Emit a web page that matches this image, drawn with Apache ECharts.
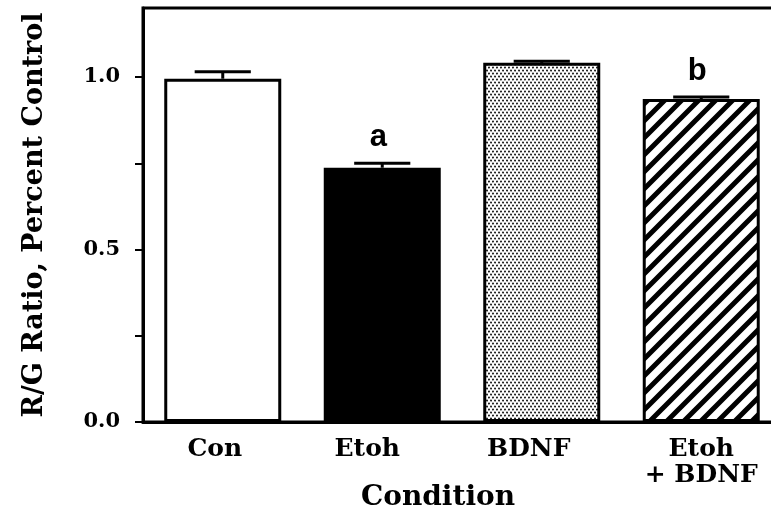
<!DOCTYPE html>
<html>
<head>
<meta charset="utf-8">
<script src="https://cdn.jsdelivr.net/npm/echarts@6/dist/echarts.min.js"></script>
<style>
html,body{margin:0;padding:0;background:#fff;}
#chart{width:771px;height:518px;}
</style>
</head>
<body>
<div id="chart"></div>
<script>
// ---- data ----
var categories = ['Con', 'Etoh', 'BDNF', 'Etoh\n+ BDNF'];
var means = [0.995, 0.737, 1.041, 0.936];
var errors = [0.020, 0.013, 0.005, 0.006];
var sigLabels = ['', 'a', '', 'b'];
var yTickValues = [0, 0.25, 0.5, 0.75, 1.0];
var yLabelValues = [0, 0.5, 1.0];
var yMin = 0, yMax = 1.2;

// ---- patterns ----
function dotPattern() {
  var c = document.createElement('canvas');
  c.width = 4; c.height = 6;
  var ctx = c.getContext('2d');
  ctx.fillStyle = '#fff'; ctx.fillRect(0, 0, 4, 6);
  ctx.fillStyle = '#222';
  ctx.beginPath(); ctx.arc(1, 1.5, 1.05, 0, Math.PI * 2); ctx.fill();
  ctx.beginPath(); ctx.arc(3, 4.5, 1.05, 0, Math.PI * 2); ctx.fill();
  return c;
}
function hatchPattern() {
  var s = 17;
  var c = document.createElement('canvas');
  c.width = s; c.height = s;
  var ctx = c.getContext('2d');
  ctx.fillStyle = '#fff'; ctx.fillRect(0, 0, s, s);
  ctx.strokeStyle = '#000'; ctx.lineWidth = 5;
  ctx.beginPath();
  ctx.moveTo(-2, s + 2); ctx.lineTo(s + 2, -2);
  ctx.moveTo(-4, 4); ctx.lineTo(4, -4);
  ctx.moveTo(s - 4, s + 4); ctx.lineTo(s + 4, s - 4);
  ctx.stroke();
  return c;
}
var fills = ['#ffffff', '#000000', { image: dotPattern(), repeat: 'repeat' }, { image: hatchPattern(), repeat: 'repeat' }];
// left shift (px) of each category label, as in the original figure
var labelStyleKeys = ['s8', 's15', 's13', 's0'];

var serif = '"DejaVu Serif", serif';
var catFont = { fontFamily: serif, fontWeight: 'bold', fontSize: 25, color: '#000', lineHeight: 26 };
function richShift(px) {
  return Object.assign({ padding: [0, px * 2, 0, 0] }, catFont);
}

var chart = echarts.init(document.getElementById('chart'), null, { renderer: 'canvas' });

var barData = means.map(function (v, i) {
  return { value: v, itemStyle: { color: fills[i], borderColor: '#000', borderWidth: 3 } };
});
var errData = means.map(function (v, i) { return [i, v, errors[i], sigLabels[i]]; });

chart.setOption({
  animation: false,
  backgroundColor: '#fff',
  grid: { left: 143, top: 8, right: -10, bottom: 96, outerBoundsMode: 'none', containLabel: false,
    show: true, borderColor: '#000', borderWidth: 3, backgroundColor: 'transparent' },
  xAxis: {
    type: 'category',
    data: categories,
    name: 'Condition',
    nameLocation: 'middle',
    nameGap: 62,
    nameMoveOverlap: false,
    nameTextStyle: { fontFamily: serif, fontWeight: 'bold', fontSize: 28, color: '#000', padding: [0, 48, 0, 0] },
    axisLine: { lineStyle: { color: '#000', width: 3 } },
    axisTick: { show: false },
    axisLabel: Object.assign({ margin: 14, interval: 0,
      formatter: function (v, i) {
        var k = labelStyleKeys[i];
        return v.split('\n').map(function (line) { return '{' + k + '|' + line + '}'; }).join('\n');
      },
      rich: { s0: richShift(0), s8: richShift(8), s13: richShift(13), s15: richShift(15) }
    }, catFont),
    splitLine: { show: false }
  },
  yAxis: {
    type: 'value',
    min: yMin, max: yMax,
    name: 'R/G Ratio, Percent Control',
    nameLocation: 'middle',
    nameGap: 95,
    nameMoveOverlap: false,
    nameTextStyle: { fontFamily: serif, fontWeight: 'bold', fontSize: 27, color: '#000' },
    axisLine: { show: true, lineStyle: { color: '#000', width: 3 } },
    axisTick: { show: true, length: 8, customValues: yTickValues, lineStyle: { color: '#000', width: 2 } },
    axisLabel: { customValues: yLabelValues, fontFamily: serif, fontWeight: 'bold', fontSize: 21, color: '#000', margin: 23,
      formatter: function (v) { return v.toFixed(1); } },
    splitLine: { show: false }
  },
  series: [
    {
      type: 'bar',
      data: barData,
      barWidth: 117,
      z: 2
    },
    {
      type: 'custom',
      data: errData,
      z: 3,
      renderItem: function (params, api) {
        var idx = api.value(0), m = api.value(1), e = api.value(2);
        var lab = sigLabels[idx];
        var pTop = api.coord([idx, m + e]);
        var pBase = api.coord([idx, m]);
        var half = api.size([1, 0])[0] * 0.176;
        var children = [
          { type: 'line', shape: { x1: pTop[0], y1: pTop[1], x2: pBase[0], y2: pBase[1] }, style: { stroke: '#000', lineWidth: 3 } },
          { type: 'line', shape: { x1: pTop[0] - half, y1: pTop[1], x2: pTop[0] + half, y2: pTop[1] }, style: { stroke: '#000', lineWidth: 3 } }
        ];
        if (lab) {
          children.push({ type: 'text', x: pTop[0] - 4, y: pTop[1] - 10,
            style: { text: lab, font: 'bold 31px "Liberation Sans", Arial, sans-serif', fill: '#000', textAlign: 'center', textVerticalAlign: 'bottom' } });
        }
        return { type: 'group', children: children };
      }
    }
  ]
});
</script>
</body>
</html>
